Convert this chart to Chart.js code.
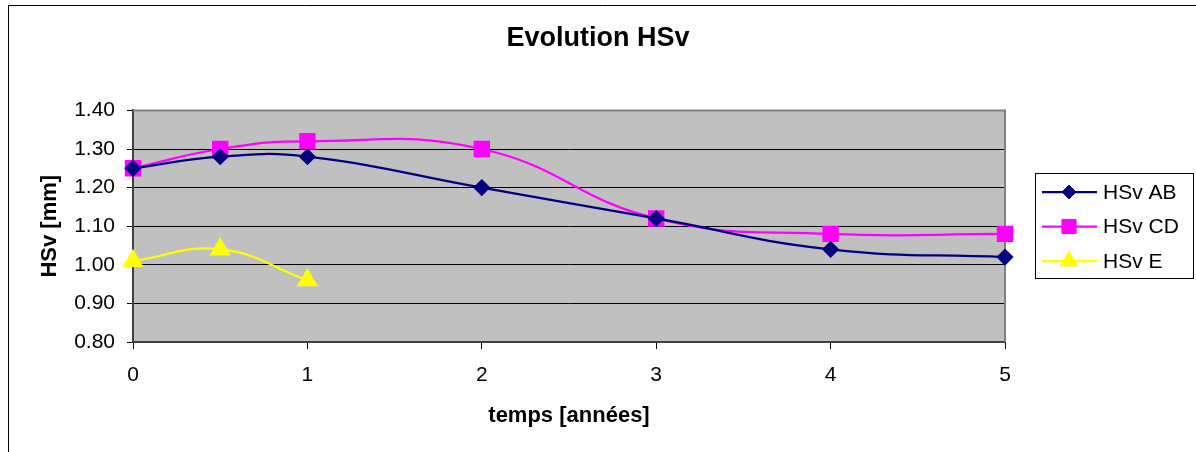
<!DOCTYPE html>
<html>
<head>
<meta charset="utf-8">
<script src="https://cdn.jsdelivr.net/npm/chart.js@4"></script>
<style>
  body { margin: 0; background: #fff; }
  #wrap { width: 1196px; height: 452px; }
</style>
</head>
<body>
<div id="wrap"><canvas id="hsvChart" width="1196" height="452"></canvas></div>
<script>
// values
const years = [0, 0.5, 1, 2, 3, 4, 5];
const hsvAB = [1.25, 1.28, 1.28, 1.20, 1.12, 1.04, 1.02];
const hsvCD = [1.25, 1.30, 1.32, 1.30, 1.12, 1.08, 1.08];
const yearsE = [0, 0.5, 1];
const hsvE = [1.01, 1.04, 0.96];
const seriesNames = ['HSv AB', 'HSv CD', 'HSv E'];

const FONT = '"Liberation Sans", Arial, sans-serif';
const SMOOTH = 0.45;

function toPoints(xs, ys) {
    return xs.map((x, i) => ({ x: x, y: ys[i] }));
}

// grey plot area + frame around the whole chart
const plotBackground = {
    id: 'plotBackground',
    beforeDraw(chart) {
        const { ctx, chartArea: a } = chart;
        ctx.save();
        ctx.fillStyle = '#c0c0c0';
        ctx.fillRect(a.left, a.top, a.right - a.left, a.bottom - a.top);
        // outer frame (only left and top are visible in the picture)
        ctx.strokeStyle = '#000';
        ctx.lineWidth = 1;
        ctx.beginPath();
        ctx.moveTo(8.5, chart.height);
        ctx.lineTo(8.5, 5.5);
        ctx.lineTo(chart.width, 5.5);
        ctx.stroke();
        ctx.restore();
    },
    beforeDatasetsDraw(chart) {
        const { ctx, chartArea: a } = chart;
        ctx.save();
        ctx.strokeStyle = '#808080';
        ctx.lineWidth = 2;
        ctx.beginPath();
        ctx.moveTo(a.left, a.top);
        ctx.lineTo(a.right, a.top);
        ctx.lineTo(a.right, a.bottom);
        ctx.stroke();
        ctx.restore();
    }
};

// Excel-like legend: boxed, line + marker
const boxLegend = {
    id: 'boxLegend',
    afterDraw(chart) {
        const ctx = chart.ctx;
        const left = 1035, top = 173, w = 158, h = 105;
        ctx.save();
        ctx.strokeStyle = '#000';
        ctx.lineWidth = 1;
        ctx.strokeRect(left + 0.5, top + 0.5, w, h);
        ctx.font = '21px ' + FONT;
        ctx.textBaseline = 'middle';
        chart.data.datasets.forEach((ds, i) => {
            const y = top + 19 + i * 34.5;
            ctx.strokeStyle = ds.borderColor;
            ctx.lineWidth = ds.borderWidth;
            ctx.beginPath();
            ctx.moveTo(1042, y);
            ctx.lineTo(1097, y);
            ctx.stroke();
            ctx.fillStyle = ds.pointBackgroundColor;
            ctx.strokeStyle = ds.pointBorderColor;
            ctx.lineWidth = 1;
            Chart.helpers.drawPoint(ctx, {
                pointStyle: ds.pointStyle,
                radius: ds.pointRadius,
                rotation: 0,
                borderWidth: 1
            }, 1069, y);
            ctx.fillStyle = '#000';
            ctx.fillText(ds.label, 1103, y + 1);
        });
        ctx.restore();
    }
};

const ctx = document.getElementById('hsvChart').getContext('2d');
new Chart(ctx, {
    type: 'line',
    data: {
        datasets: [
            {
                label: seriesNames[0],
                data: toPoints(years, hsvAB),
                borderColor: '#000080',
                borderWidth: 2.25,
                pointStyle: 'rectRot',
                pointRadius: 7,
                pointBackgroundColor: '#000080',
                pointBorderColor: '#000080',
                tension: SMOOTH,
                clip: false
            },
            {
                label: seriesNames[1],
                data: toPoints(years, hsvCD),
                borderColor: '#ff00ff',
                borderWidth: 2.25,
                pointStyle: 'rect',
                pointRadius: 10,
                pointBackgroundColor: '#ff00ff',
                pointBorderColor: '#ff00ff',
                tension: SMOOTH,
                clip: false
            },
            {
                label: seriesNames[2],
                data: toPoints(yearsE, hsvE),
                borderColor: '#ffff00',
                borderWidth: 2.25,
                pointStyle: 'triangle',
                pointRadius: 10,
                pointBackgroundColor: '#ffff00',
                pointBorderColor: '#ffff00',
                tension: SMOOTH,
                clip: false
            }
        ]
    },
    options: {
        responsive: false,
        animation: false,
        layout: { padding: 0 },
        plugins: {
            legend: { display: false },
            tooltip: { enabled: false },
            title: {
                display: true,
                text: 'Evolution HSv',
                color: '#000',
                font: { family: FONT, size: 27, weight: 'bold' },
                padding: { top: 22, bottom: 56 }
            }
        },
        scales: {
            x: {
                type: 'linear',
                min: 0,
                max: 5,
                afterFit: s => { s.height = 110; },
                ticks: {
                    stepSize: 1,
                    color: '#000',
                    padding: 14,
                    font: { family: FONT, size: 21 }
                },
                grid: {
                    drawOnChartArea: false,
                    drawTicks: true,
                    tickLength: 7,
                    tickColor: '#000'
                },
                border: { display: true, color: '#404040', width: 2 },
                title: {
                    display: true,
                    text: 'temps [années]',
                    color: '#000',
                    font: { family: FONT, size: 22, weight: 'bold' },
                    padding: { top: 0, bottom: 23 }
                }
            },
            y: {
                min: 0.8,
                max: 1.4,
                afterFit: s => { s.width = 133; },
                ticks: {
                    stepSize: 0.1,
                    color: '#000',
                    padding: 12,
                    font: { family: FONT, size: 21 },
                    callback: v => v.toFixed(2)
                },
                grid: {
                    color: '#000',
                    lineWidth: 1,
                    drawTicks: true,
                    tickLength: 6,
                    tickColor: '#000'
                },
                border: { display: true, color: '#404040', width: 2 },
                title: {
                    display: true,
                    text: 'HSv [mm]',
                    color: '#000',
                    font: { family: FONT, size: 22, weight: 'bold' },
                    padding: { top: 37, bottom: 0 }
                }
            },
            // empty axis that keeps room on the right for the legend
            legendSpace: {
                type: 'linear',
                position: 'right',
                afterFit: s => { s.width = 191; },
                ticks: { display: false },
                grid: { display: false },
                border: { display: false }
            }
        }
    },
    plugins: [plotBackground, boxLegend]
});
</script>
</body>
</html>
